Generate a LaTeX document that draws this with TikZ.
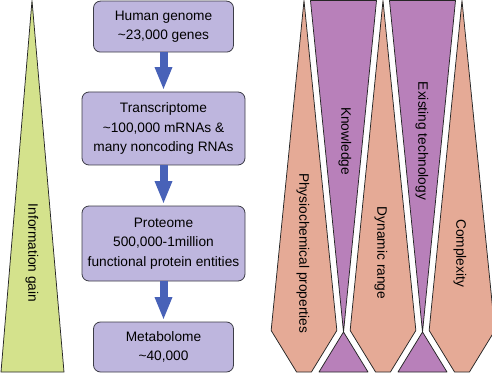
\documentclass[tikz,border=0pt]{standalone}
\usepackage{fontspec}
\setmainfont{Liberation Sans}
\usetikzlibrary{arrows.meta}
\definecolor{boxfill}{RGB}{190,182,222}
\definecolor{boxline}{RGB}{60,60,70}
\definecolor{arrowblue}{RGB}{72,98,184}
\definecolor{gainfill}{RGB}{212,226,140}
\definecolor{salmonfill}{RGB}{229,170,150}
\definecolor{plumfill}{RGB}{184,128,186}
\begin{document}
\begin{tikzpicture}[x=1pt,y=-1pt,
  stagebox/.style={draw=boxline, fill=boxfill, line width=0.8pt, rounded corners=7pt,
    align=center, inner sep=0pt, font=\fontsize{13.7}{19.5}\selectfont},
  flowarrow/.style={draw=arrowblue, line width=8pt, shorten >=1.5pt,
    -{Triangle[width=16pt,length=23pt]}},
  band/.style={draw=black!85, line width=0.75pt, line join=round},
  vlabel/.style={rotate=-90, font=\fontsize{13.7}{16}\selectfont, inner sep=0pt}]
\useasboundingbox (0,0) rectangle (492,374);

% left triangle
\draw[band, fill=gainfill] (32,0.6) -- (64,372) -- (1,372) -- cycle;
\node[vlabel] (gain) at (32,253) {Information gain};

% boxes
\node[stagebox, minimum width=140pt, minimum height=51pt] (genome) at (163.5,26.6)
  {Human genome\\\textasciitilde23,000 genes};
\node[stagebox, minimum width=163pt, minimum height=73pt] (transcriptome) at (163.5,128.5)
  {Transcriptome\\\textasciitilde100,000 mRNAs \&\\many noncoding RNAs};
\node[stagebox, minimum width=163pt, minimum height=75pt] (proteome) at (163.5,243.5)
  {Proteome\\500,000-1million\\functional protein entities};
\node[stagebox, minimum width=140pt, minimum height=50pt] (metabolome) at (163.5,347)
  {Metabolome\\\textasciitilde40,000};

\draw[flowarrow] (genome.south) -- (transcriptome.north);
\draw[flowarrow] (transcriptome.south) -- (proteome.north);
\draw[flowarrow] (proteome.south) -- (metabolome.north);

% right panel
\begin{scope}
\clip (250,-2) rectangle (492,376);
\draw[band, fill=salmonfill] (304,0.6) -- (336.85,330.48) -- (311.42,372) -- (296.58,372) -- (271.15,330.48) -- cycle;
\draw[band, fill=salmonfill] (383,0.6) -- (415.85,330.48) -- (390.42,372) -- (375.58,372) -- (350.15,330.48) -- cycle;
\draw[band, fill=salmonfill] (462,0.6) -- (494.85,330.48) -- (469.42,372) -- (454.58,372) -- (429.15,330.48) -- cycle;
\draw[band, fill=plumfill] (310.5,0.6) -- (376.5,0.6) -- (343.5,332) -- (368,372) -- (319,372) -- (343.5,332) -- cycle;
\draw[band, fill=plumfill] (389.5,0.6) -- (455.5,0.6) -- (422.5,332) -- (447,372) -- (398,372) -- (422.5,332) -- cycle;
\end{scope}

\node[vlabel] (physio) at (303,253) {Physiochemical properties};
\node[vlabel] (knowledge) at (345,141) {Knowledge};
\node[vlabel] (techno) at (422,141) {Existing technology};
\node[vlabel] (dynamic) at (381,253) {Dynamic range};
\node[vlabel] (complexity) at (460,253) {Complexity};
\end{tikzpicture}
\end{document}
